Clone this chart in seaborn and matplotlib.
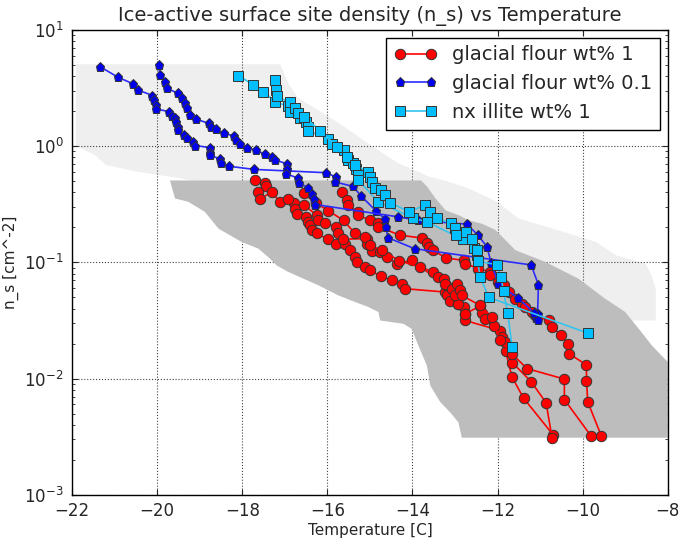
import numpy as np
import pandas as pd
import seaborn as sns
import matplotlib
matplotlib.use('Agg')
import matplotlib.pyplot as plt

# ---- glacial flour wt% 1 (red), four runs ----
gf1_a_t = [-15.66, -15.55, -15.51, -15.29, -15.27, -15.00, -14.80, -14.80, -14.29, -13.78,
           -13.66, -13.62, -13.51, -13.22, -12.80, -12.76, -12.45, -12.17, -12.17, -11.98,
           -11.86, -11.74, -11.58, -11.43, -11.35, -11.19, -11.11, -10.80, -10.72, -10.50,
           -10.35, -10.31, -9.91, -9.91, -9.88, -9.56]
gf1_a_ns = [0.405, 0.342, 0.310, 0.272, 0.254, 0.230, 0.216, 0.202, 0.171, 0.162,
            0.147, 0.136, 0.127, 0.109, 0.104, 0.0975, 0.0883, 0.0827, 0.0773, 0.0678,
            0.0634, 0.0555, 0.0486, 0.0440, 0.0413, 0.0374, 0.0349, 0.0316, 0.0277, 0.0235,
            0.0199, 0.0163, 0.0131, 0.0096, 0.0063, 0.0032]
gf1_b_t = [-17.70, -17.47, -17.44, -17.62, -17.58, -17.31, -17.11, -16.78, -16.76, -16.72,
           -16.51, -16.45, -16.41, -16.37, -16.25, -15.98, -15.80, -15.58, -15.47, -15.35,
           -15.31, -15.11, -15.00, -14.75, -14.49, -14.25, -14.17, -13.23, -13.19, -13.11,
           -12.92, -12.80, -12.76, -12.76, -11.94, -11.81, -11.66, -11.39, -10.70]
gf1_b_ns = [0.509, 0.477, 0.450, 0.405, 0.354, 0.399, 0.332, 0.321, 0.290, 0.263,
            0.246, 0.223, 0.209, 0.189, 0.177, 0.158, 0.145, 0.145, 0.127, 0.111,
            0.101, 0.0912, 0.0853, 0.0764, 0.070, 0.0655, 0.0593, 0.0555, 0.0519, 0.0461,
            0.0440, 0.0413, 0.0361, 0.0316, 0.0259, 0.0171, 0.0103, 0.0068, 0.0033]
gf1_c_t = [-16.93, -16.56, -16.25, -16.21, -16.05, -15.80, -15.74, -15.64, -15.08, -15.08,
           -14.96, -14.76, -14.60, -14.37, -14.02, -13.22, -13.04, -12.92, -12.76, -12.41,
           -12.37, -12.29, -12.09, -11.90, -11.82, -11.65, -11.21, -10.86, -10.72]
gf1_c_ns = [0.349, 0.314, 0.254, 0.230, 0.216, 0.202, 0.177, 0.158, 0.160, 0.145,
            0.124, 0.123, 0.111, 0.0975, 0.104, 0.0634, 0.0593, 0.0440, 0.0361, 0.0421,
            0.0368, 0.0327, 0.0281, 0.0227, 0.0206, 0.0137, 0.0094, 0.0062, 0.0031]
gf1_d_t = [-16.56, -16.26, -15.98, -15.62, -15.35, -15.11, -15.00, -14.72, -14.31, -13.82,
           -13.51, -13.39, -13.27, -13.23, -13.08, -13.00, -12.96, -12.88, -12.84, -12.41,
           -12.13, -11.94, -11.66, -11.31, -10.43, -10.43, -9.80]
gf1_d_ns = [0.391, 0.321, 0.279, 0.229, 0.177, 0.166, 0.140, 0.127, 0.103, 0.0912,
            0.0827, 0.0748, 0.0724, 0.0655, 0.0593, 0.0519, 0.0655, 0.0574, 0.0519, 0.0426,
            0.0338, 0.0213, 0.0163, 0.0122, 0.0099, 0.0066, 0.0032]

# ---- glacial flour wt% 0.1 (blue), two runs ----
gf01_a_t = [-21.35, -20.92, -20.56, -20.45, -20.11, -20.07, -20.03, -20.02, -19.72, -19.66,
            -19.58, -19.55, -19.52, -19.51, -19.37, -19.31, -19.15, -19.10, -18.76, -18.76,
            -18.76, -18.53, -18.50, -18.31, -17.72, -16.03, -15.79, -15.81, -15.40, -15.20,
            -14.85, -14.64, -14.62, -14.58, -13.95, -11.21, -11.04, -11.06, -11.10]
gf01_a_ns = [4.83, 3.91, 3.42, 3.04, 2.72, 2.49, 2.26, 2.08, 1.98, 1.83,
             1.73, 1.60, 1.47, 1.37, 1.24, 1.18, 1.09, 1.01, 0.97, 0.88,
             0.83, 0.78, 0.72, 0.67, 0.63, 0.59, 0.54, 0.49, 0.45, 0.37,
             0.275, 0.235, 0.20, 0.163, 0.131, 0.095, 0.064, 0.036, 0.033]
gf01_b_t = [-19.96, -19.94, -19.82, -19.77, -19.51, -19.41, -19.35, -19.29, -19.23, -19.08,
            -18.79, -18.74, -18.62, -18.43, -18.19, -18.14, -18.06, -17.90, -17.67, -17.47,
            -17.29, -17.22, -16.94, -16.94, -16.98, -16.69, -16.67, -16.45, -16.35, -16.31,
            -16.28, -14.33, -13.86, -12.72, -12.46, -12.25, -12.15, -11.98, -11.51, -11.15, -11.04]
gf01_b_ns = [4.99, 4.09, 3.54, 3.14, 2.84, 2.58, 2.33, 2.11, 1.85, 1.70,
             1.57, 1.45, 1.39, 1.29, 1.22, 1.13, 1.05, 0.97, 0.92, 0.85,
             0.81, 0.76, 0.70, 0.64, 0.58, 0.53, 0.48, 0.44, 0.39, 0.354,
             0.314, 0.246, 0.229, 0.213, 0.171, 0.136, 0.099, 0.065, 0.049, 0.037, 0.032]

# ---- nx illite wt% 1 (cyan), two runs ----
nx_a_t = [-18.09, -17.74, -17.51, -17.22, -16.93, -16.88, -16.64, -16.51, -16.46, -16.45,
          -15.98, -15.90, -15.62, -15.51, -15.39, -15.33, -15.29, -15.27, -14.80, -13.98,
          -13.66, -12.82, -12.56, -12.49, -12.41, -12.21, -9.88]
nx_a_ns = [4.04, 3.36, 2.94, 2.41, 2.19, 1.98, 1.73, 1.62, 1.47, 1.35,
           1.16, 1.05, 0.92, 0.76, 0.71, 0.64, 0.56, 0.51, 0.33, 0.24,
           0.223, 0.158, 0.133, 0.115, 0.075, 0.050, 0.0246]
nx_b_t = [-17.23, -17.21, -17.19, -16.88, -16.76, -16.68, -16.54, -16.17, -15.78, -15.55,
          -15.35, -15.04, -15.00, -14.94, -14.89, -14.74, -14.64, -14.52, -14.09, -13.70,
          -13.58, -13.43, -13.10, -13.00, -12.98, -12.74, -12.60, -12.49, -12.45, -12.02,
          -11.92, -11.86, -11.76, -11.66]
nx_b_ns = [3.71, 3.04, 2.67, 2.38, 2.11, 1.91, 1.79, 1.35, 0.99, 0.81,
           0.69, 0.60, 0.545, 0.487, 0.432, 0.418, 0.378, 0.327, 0.272, 0.310,
           0.272, 0.241, 0.216, 0.198, 0.173, 0.183, 0.158, 0.127, 0.102, 0.0955,
           0.0748, 0.0562, 0.0366, 0.0187]

# ---- shaded envelopes ----
light_top_t = [-21.91, -17.11, -16.92, -16.68, -16.21, -15.62, -15.04, -14.33, -13.62, -13.15,
               -12.68, -11.98, -11.51, -10.56, -9.69, -9.22, -8.52, -8.38, -8.28, -8.28]
light_top_ns = [5.06, 5.06, 3.47, 2.58, 2.03, 1.48, 1.05, 0.71, 0.548, 0.493,
                0.432, 0.327, 0.238, 0.188, 0.150, 0.115, 0.0975, 0.077, 0.059, 0.0316]
light_bot_t = [-9.22, -11.0, -14.0, -17.0, -18.5, -19.43, -20.45, -21.2, -21.47, -21.91]
light_bot_ns = [0.0316, 0.045, 0.12, 0.35, 0.45, 0.527, 0.60, 0.686, 0.84, 1.0]

dark_top_t = [-19.70, -13.80, -13.66, -13.46, -13.22, -12.92, -12.68, -12.37, -12.05, -11.58,
              -10.88, -10.09, -9.47, -9.00, -8.68, -8.37, -8.00, -8.00]
dark_top_ns = [0.506, 0.506, 0.45, 0.355, 0.28, 0.255, 0.23, 0.215, 0.19, 0.127,
               0.101, 0.072, 0.0486, 0.0374, 0.0268, 0.0192, 0.0139, 0.0031]
dark_bot_t = [-12.84, -12.92, -13.11, -13.35, -13.58, -13.66, -13.86, -14.02, -14.21, -14.76,
              -14.80, -15.04, -15.35, -15.74, -16.21, -16.92, -17.19, -17.39, -17.62, -18.02,
              -18.56, -18.88, -19.27, -19.58]
dark_bot_ns = [0.0031, 0.0042, 0.0051, 0.0063, 0.0087, 0.0129, 0.0192, 0.0268, 0.0296, 0.0316,
               0.0374, 0.0413, 0.0456, 0.0519, 0.0634, 0.0827, 0.094, 0.111, 0.131, 0.150,
               0.195, 0.272, 0.332, 0.354]


def runs_frame(runs):
    rows = []
    for k, (t, ns) in enumerate(runs):
        rows.append(pd.DataFrame({'T': t, 'ns': ns, 'run': k}))
    return pd.concat(rows, ignore_index=True)


sns.set_style('ticks')
plt.rcParams.update({'font.family': ['DejaVu Sans'],
                     'xtick.direction': 'in', 'ytick.direction': 'in',
                     'xtick.top': True, 'ytick.right': True,
                     'xtick.major.size': 4, 'ytick.major.size': 4,
                     'xtick.major.pad': 5, 'ytick.major.pad': 6,
                     'ytick.minor.size': 2, 'xtick.labelsize': 12, 'ytick.labelsize': 12})

fig = plt.figure(figsize=(6.8, 5.42), dpi=100)
ax = fig.add_axes([0.106, 0.087, 0.876, 0.858])

ax.fill(light_top_t + light_bot_t, light_top_ns + light_bot_ns,
        color='#efefef', lw=0, zorder=0.5)
ax.fill(dark_top_t + dark_bot_t, dark_top_ns + dark_bot_ns,
        color='#bdbdbd', lw=0, zorder=0.6)

series = [
    ('glacial flour wt% 1', [(gf1_a_t, gf1_a_ns), (gf1_b_t, gf1_b_ns),
                             (gf1_c_t, gf1_c_ns), (gf1_d_t, gf1_d_ns)],
     'red', '#ff0000', 'o', 7.5),
    ('glacial flour wt% 0.1', [(gf01_a_t, gf01_a_ns), (gf01_b_t, gf01_b_ns)],
     '#2b2bff', '#0000ee', 'p', 6.5),
    ('nx illite wt% 1', [(nx_a_t, nx_a_ns), (nx_b_t, nx_b_ns)],
     '#33c4ee', '#00bfff', 's', 7),
]

handles, labels = [], []
for name, runs, lc, mc, mk, ms in series:
    n0 = len(ax.lines)
    sns.lineplot(data=runs_frame(runs), x='T', y='ns', units='run', estimator=None,
                 sort=False, color=lc, marker=mk, markersize=ms, markerfacecolor=mc,
                 markeredgecolor='#333333', markeredgewidth=0.7, lw=1.2,
                 legend=False, ax=ax)
    handles.append(ax.lines[n0])
    labels.append(name)

ax.set_yscale('log')
ax.set_xlim(-22, -8)
ax.set_ylim(1e-3, 1e1)
ax.set_xticks(np.arange(-22, -7, 2))
ax.grid(True, which='major', color='#444444', linestyle=':', linewidth=0.8)
for s in ax.spines.values():
    s.set_color('k')
    s.set_linewidth(1)

ax.set_title('Ice-active surface site density (n_s) vs Temperature', fontsize=14)
ax.set_xlabel('Temperature [C]', fontsize=11, labelpad=2)
ax.set_ylabel('n_s [cm^-2]', fontsize=11)

leg = ax.legend(handles, labels, loc='upper right', fontsize=14, numpoints=2,
                fancybox=False, framealpha=1, edgecolor='k', borderaxespad=0.4,
                handlelength=2.2)
leg.get_frame().set_linewidth(1)

fig.savefig('out.png', dpi=100)
